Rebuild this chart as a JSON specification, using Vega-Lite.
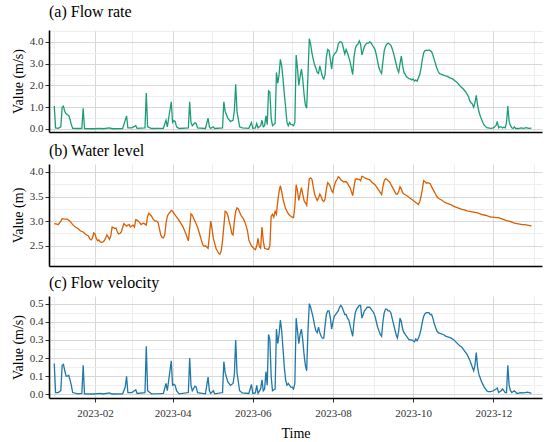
{
  "$schema": "https://vega.github.io/schema/vega-lite/v6.json",
  "background": "white",
  "padding": {"left": 11, "top": 4, "right": 6, "bottom": 2},
  "config": {
    "font": "'Liberation Serif', 'Times New Roman', serif",
    "view": {"stroke": null},
    "axis": {
      "labelFont": "'Liberation Serif', 'Times New Roman', serif", "titleFont": "'Liberation Serif', 'Times New Roman', serif",
      "labelFontSize": 11, "labelColor": "#333333",
      "titleFontSize": 14, "titleFontWeight": "normal", "titleColor": "black",
      "domainColor": "black", "domainWidth": 1.6,
      "tickSize": 4, "gridWidth": 0.9, "labelOverlap": false, "labelFlush": false
    },
    "title": {"font": "'Liberation Serif', 'Times New Roman', serif", "fontSize": 16, "fontWeight": "normal", "anchor": "start", "frame": "group", "offset": 5, "color": "black"},
    "concat": {"spacing": 9}
  },
  "datasets": {
    "flow": [
      {"date": "2023-01-01", "v": 1.05}, {"date": "2023-01-02", "v": 0.05}, {"date": "2023-01-04", "v": 0.03}, {"date": "2023-01-06", "v": 0.1},
      {"date": "2023-01-07", "v": 1.0}, {"date": "2023-01-08", "v": 1.05}, {"date": "2023-01-09", "v": 0.8}, {"date": "2023-01-10", "v": 0.7},
      {"date": "2023-01-11", "v": 0.65}, {"date": "2023-01-12", "v": 0.62}, {"date": "2023-01-13", "v": 0.45}, {"date": "2023-01-14", "v": 0.2},
      {"date": "2023-01-15", "v": 0.03}, {"date": "2023-01-19", "v": 0.02}, {"date": "2023-01-22", "v": 0.03}, {"date": "2023-01-23", "v": 0.95},
      {"date": "2023-01-24", "v": 0.02}, {"date": "2023-01-31", "v": 0.01}, {"date": "2023-02-05", "v": 0.03}, {"date": "2023-02-07", "v": 0.01},
      {"date": "2023-02-12", "v": 0.05}, {"date": "2023-02-14", "v": 0.01}, {"date": "2023-02-22", "v": 0.02}, {"date": "2023-02-25", "v": 0.6},
      {"date": "2023-02-26", "v": 0.05}, {"date": "2023-03-01", "v": 0.05}, {"date": "2023-03-03", "v": 0.12}, {"date": "2023-03-04", "v": 0.15},
      {"date": "2023-03-05", "v": 0.03}, {"date": "2023-03-11", "v": 0.05}, {"date": "2023-03-12", "v": 1.65}, {"date": "2023-03-13", "v": 0.1},
      {"date": "2023-03-16", "v": 0.02}, {"date": "2023-03-22", "v": 0.03}, {"date": "2023-03-25", "v": 0.03}, {"date": "2023-03-27", "v": 0.4},
      {"date": "2023-03-28", "v": 0.1}, {"date": "2023-03-31", "v": 1.25}, {"date": "2023-04-01", "v": 0.3}, {"date": "2023-04-02", "v": 0.38},
      {"date": "2023-04-03", "v": 0.35}, {"date": "2023-04-04", "v": 0.1}, {"date": "2023-04-06", "v": 0.02}, {"date": "2023-04-13", "v": 0.05},
      {"date": "2023-04-14", "v": 1.25}, {"date": "2023-04-15", "v": 0.3}, {"date": "2023-04-16", "v": 0.15}, {"date": "2023-04-18", "v": 0.28},
      {"date": "2023-04-19", "v": 0.25}, {"date": "2023-04-20", "v": 0.05}, {"date": "2023-04-26", "v": 0.02}, {"date": "2023-04-28", "v": 0.5},
      {"date": "2023-04-29", "v": 0.1}, {"date": "2023-04-30", "v": 0.03}, {"date": "2023-05-02", "v": 0.1}, {"date": "2023-05-03", "v": 0.02},
      {"date": "2023-05-09", "v": 0.05}, {"date": "2023-05-10", "v": 1.25}, {"date": "2023-05-11", "v": 0.8}, {"date": "2023-05-13", "v": 0.5},
      {"date": "2023-05-15", "v": 0.35}, {"date": "2023-05-17", "v": 0.4}, {"date": "2023-05-18", "v": 0.85}, {"date": "2023-05-19", "v": 2.05},
      {"date": "2023-05-20", "v": 0.8}, {"date": "2023-05-22", "v": 0.1}, {"date": "2023-05-24", "v": 0.05}, {"date": "2023-05-29", "v": 0.03},
      {"date": "2023-05-31", "v": 0.3}, {"date": "2023-06-01", "v": 0.03}, {"date": "2023-06-03", "v": 0.05}, {"date": "2023-06-04", "v": 0.25},
      {"date": "2023-06-05", "v": 0.05}, {"date": "2023-06-07", "v": 0.15}, {"date": "2023-06-08", "v": 0.4}, {"date": "2023-06-09", "v": 0.1},
      {"date": "2023-06-10", "v": 0.15}, {"date": "2023-06-11", "v": 0.6}, {"date": "2023-06-12", "v": 0.2}, {"date": "2023-06-13", "v": 1.75},
      {"date": "2023-06-14", "v": 1.7}, {"date": "2023-06-15", "v": 0.5}, {"date": "2023-06-16", "v": 0.15}, {"date": "2023-06-17", "v": 0.2},
      {"date": "2023-06-18", "v": 0.25}, {"date": "2023-06-19", "v": 2.6}, {"date": "2023-06-20", "v": 2.1}, {"date": "2023-06-21", "v": 2.5},
      {"date": "2023-06-22", "v": 3.2}, {"date": "2023-06-23", "v": 2.9}, {"date": "2023-06-24", "v": 2.3}, {"date": "2023-06-25", "v": 1.6},
      {"date": "2023-06-26", "v": 1.0}, {"date": "2023-06-27", "v": 0.3}, {"date": "2023-06-28", "v": 0.15}, {"date": "2023-06-29", "v": 0.3},
      {"date": "2023-06-30", "v": 0.2}, {"date": "2023-07-01", "v": 0.2}, {"date": "2023-07-02", "v": 0.15}, {"date": "2023-07-03", "v": 0.3},
      {"date": "2023-07-04", "v": 3.4}, {"date": "2023-07-05", "v": 2.8}, {"date": "2023-07-06", "v": 2.0}, {"date": "2023-07-07", "v": 2.4},
      {"date": "2023-07-08", "v": 2.75}, {"date": "2023-07-09", "v": 2.3}, {"date": "2023-07-10", "v": 1.6}, {"date": "2023-07-11", "v": 1.1},
      {"date": "2023-07-12", "v": 0.95}, {"date": "2023-07-13", "v": 2.5}, {"date": "2023-07-14", "v": 4.15}, {"date": "2023-07-15", "v": 3.9},
      {"date": "2023-07-16", "v": 3.5}, {"date": "2023-07-17", "v": 3.2}, {"date": "2023-07-18", "v": 2.95}, {"date": "2023-07-19", "v": 2.8},
      {"date": "2023-07-20", "v": 2.6}, {"date": "2023-07-21", "v": 2.55}, {"date": "2023-07-22", "v": 2.9}, {"date": "2023-07-23", "v": 2.65},
      {"date": "2023-07-24", "v": 2.4}, {"date": "2023-07-25", "v": 2.3}, {"date": "2023-07-26", "v": 2.5}, {"date": "2023-07-27", "v": 3.3},
      {"date": "2023-07-28", "v": 3.65}, {"date": "2023-07-29", "v": 3.6}, {"date": "2023-07-30", "v": 3.2}, {"date": "2023-07-31", "v": 2.75},
      {"date": "2023-08-01", "v": 3.3}, {"date": "2023-08-02", "v": 3.45}, {"date": "2023-08-03", "v": 3.5}, {"date": "2023-08-04", "v": 3.6},
      {"date": "2023-08-05", "v": 3.9}, {"date": "2023-08-06", "v": 4.0}, {"date": "2023-08-07", "v": 4.0}, {"date": "2023-08-08", "v": 3.95},
      {"date": "2023-08-09", "v": 3.7}, {"date": "2023-08-10", "v": 3.45}, {"date": "2023-08-11", "v": 3.65}, {"date": "2023-08-12", "v": 3.5},
      {"date": "2023-08-13", "v": 3.3}, {"date": "2023-08-14", "v": 3.1}, {"date": "2023-08-15", "v": 2.8}, {"date": "2023-08-16", "v": 2.5},
      {"date": "2023-08-17", "v": 3.3}, {"date": "2023-08-18", "v": 3.7}, {"date": "2023-08-19", "v": 3.85}, {"date": "2023-08-20", "v": 3.9},
      {"date": "2023-08-21", "v": 4.05}, {"date": "2023-08-22", "v": 3.9}, {"date": "2023-08-23", "v": 3.4}, {"date": "2023-08-24", "v": 3.6},
      {"date": "2023-08-25", "v": 3.8}, {"date": "2023-08-26", "v": 3.9}, {"date": "2023-08-27", "v": 3.95}, {"date": "2023-08-28", "v": 3.95},
      {"date": "2023-08-29", "v": 4.0}, {"date": "2023-08-30", "v": 3.95}, {"date": "2023-08-31", "v": 3.85}, {"date": "2023-09-01", "v": 3.75},
      {"date": "2023-09-02", "v": 3.65}, {"date": "2023-09-03", "v": 3.4}, {"date": "2023-09-04", "v": 3.1}, {"date": "2023-09-05", "v": 2.8},
      {"date": "2023-09-06", "v": 2.65}, {"date": "2023-09-07", "v": 2.55}, {"date": "2023-09-08", "v": 3.1}, {"date": "2023-09-09", "v": 3.6},
      {"date": "2023-09-10", "v": 3.8}, {"date": "2023-09-11", "v": 3.9}, {"date": "2023-09-12", "v": 3.95}, {"date": "2023-09-13", "v": 3.9},
      {"date": "2023-09-14", "v": 3.85}, {"date": "2023-09-15", "v": 3.7}, {"date": "2023-09-16", "v": 3.5}, {"date": "2023-09-17", "v": 3.25},
      {"date": "2023-09-18", "v": 3.0}, {"date": "2023-09-19", "v": 2.75}, {"date": "2023-09-20", "v": 2.6}, {"date": "2023-09-21", "v": 3.0},
      {"date": "2023-09-22", "v": 3.35}, {"date": "2023-09-23", "v": 2.9}, {"date": "2023-09-24", "v": 2.6}, {"date": "2023-09-25", "v": 2.5},
      {"date": "2023-09-26", "v": 2.4}, {"date": "2023-09-27", "v": 2.35}, {"date": "2023-09-28", "v": 2.3}, {"date": "2023-09-29", "v": 2.3},
      {"date": "2023-09-30", "v": 2.25}, {"date": "2023-10-01", "v": 2.3}, {"date": "2023-10-02", "v": 2.2}, {"date": "2023-10-03", "v": 2.25},
      {"date": "2023-10-04", "v": 2.2}, {"date": "2023-10-05", "v": 2.35}, {"date": "2023-10-06", "v": 2.5}, {"date": "2023-10-07", "v": 2.8},
      {"date": "2023-10-08", "v": 3.2}, {"date": "2023-10-09", "v": 3.5}, {"date": "2023-10-10", "v": 3.6}, {"date": "2023-10-11", "v": 3.62},
      {"date": "2023-10-12", "v": 3.6}, {"date": "2023-10-13", "v": 3.63}, {"date": "2023-10-14", "v": 3.6}, {"date": "2023-10-15", "v": 3.55},
      {"date": "2023-10-16", "v": 3.4}, {"date": "2023-10-17", "v": 3.2}, {"date": "2023-10-18", "v": 3.0}, {"date": "2023-10-19", "v": 2.8},
      {"date": "2023-10-20", "v": 2.65}, {"date": "2023-10-21", "v": 2.55}, {"date": "2023-10-23", "v": 2.5}, {"date": "2023-10-25", "v": 2.45},
      {"date": "2023-10-27", "v": 2.42}, {"date": "2023-10-29", "v": 2.35}, {"date": "2023-10-31", "v": 2.3}, {"date": "2023-11-02", "v": 2.2},
      {"date": "2023-11-04", "v": 2.1}, {"date": "2023-11-06", "v": 1.95}, {"date": "2023-11-08", "v": 1.85}, {"date": "2023-11-10", "v": 1.7},
      {"date": "2023-11-12", "v": 1.5}, {"date": "2023-11-13", "v": 1.3}, {"date": "2023-11-14", "v": 1.2}, {"date": "2023-11-15", "v": 1.15},
      {"date": "2023-11-16", "v": 1.0}, {"date": "2023-11-17", "v": 1.2}, {"date": "2023-11-18", "v": 1.55}, {"date": "2023-11-19", "v": 1.1},
      {"date": "2023-11-20", "v": 0.8}, {"date": "2023-11-21", "v": 0.6}, {"date": "2023-11-22", "v": 0.45}, {"date": "2023-11-23", "v": 0.3},
      {"date": "2023-11-24", "v": 0.18}, {"date": "2023-11-25", "v": 0.12}, {"date": "2023-11-26", "v": 0.06}, {"date": "2023-11-27", "v": 0.05},
      {"date": "2023-11-29", "v": 0.03}, {"date": "2023-12-01", "v": 0.05}, {"date": "2023-12-02", "v": 0.1}, {"date": "2023-12-03", "v": 0.15},
      {"date": "2023-12-04", "v": 0.35}, {"date": "2023-12-05", "v": 0.05}, {"date": "2023-12-06", "v": 0.1}, {"date": "2023-12-07", "v": 0.1},
      {"date": "2023-12-08", "v": 0.05}, {"date": "2023-12-09", "v": 0.08}, {"date": "2023-12-10", "v": 0.05}, {"date": "2023-12-11", "v": 0.3},
      {"date": "2023-12-12", "v": 1.05}, {"date": "2023-12-13", "v": 0.35}, {"date": "2023-12-14", "v": 0.15}, {"date": "2023-12-15", "v": 0.05},
      {"date": "2023-12-16", "v": 0.02}, {"date": "2023-12-17", "v": 0.1}, {"date": "2023-12-18", "v": 0.02}, {"date": "2023-12-20", "v": 0.02},
      {"date": "2023-12-22", "v": 0.05}, {"date": "2023-12-24", "v": 0.03}, {"date": "2023-12-26", "v": 0.06}, {"date": "2023-12-28", "v": 0.03},
      {"date": "2023-12-30", "v": 0.04}
    ],
    "level": [
      {"date": "2023-01-01", "v": 2.95}, {"date": "2023-01-03", "v": 2.94}, {"date": "2023-01-04", "v": 2.93}, {"date": "2023-01-06", "v": 3.0},
      {"date": "2023-01-07", "v": 3.05}, {"date": "2023-01-09", "v": 3.04}, {"date": "2023-01-11", "v": 3.04}, {"date": "2023-01-13", "v": 3.0},
      {"date": "2023-01-15", "v": 2.93}, {"date": "2023-01-17", "v": 2.88}, {"date": "2023-01-19", "v": 2.85}, {"date": "2023-01-21", "v": 2.8},
      {"date": "2023-01-23", "v": 2.78}, {"date": "2023-01-25", "v": 2.73}, {"date": "2023-01-27", "v": 2.7}, {"date": "2023-01-28", "v": 2.64},
      {"date": "2023-01-29", "v": 2.62}, {"date": "2023-01-30", "v": 2.65}, {"date": "2023-01-31", "v": 2.76}, {"date": "2023-02-01", "v": 2.74},
      {"date": "2023-02-02", "v": 2.65}, {"date": "2023-02-03", "v": 2.6}, {"date": "2023-02-04", "v": 2.62}, {"date": "2023-02-05", "v": 2.58},
      {"date": "2023-02-06", "v": 2.57}, {"date": "2023-02-07", "v": 2.58}, {"date": "2023-02-08", "v": 2.6}, {"date": "2023-02-09", "v": 2.65},
      {"date": "2023-02-10", "v": 2.72}, {"date": "2023-02-11", "v": 2.68}, {"date": "2023-02-12", "v": 2.63}, {"date": "2023-02-13", "v": 2.7},
      {"date": "2023-02-14", "v": 2.88}, {"date": "2023-02-15", "v": 2.87}, {"date": "2023-02-16", "v": 2.85}, {"date": "2023-02-17", "v": 2.86},
      {"date": "2023-02-18", "v": 2.78}, {"date": "2023-02-19", "v": 2.74}, {"date": "2023-02-20", "v": 2.75}, {"date": "2023-02-21", "v": 2.78},
      {"date": "2023-02-22", "v": 2.87}, {"date": "2023-02-23", "v": 2.95}, {"date": "2023-02-24", "v": 2.92}, {"date": "2023-02-25", "v": 2.9},
      {"date": "2023-02-26", "v": 2.92}, {"date": "2023-02-27", "v": 2.93}, {"date": "2023-02-28", "v": 2.88}, {"date": "2023-03-01", "v": 2.9},
      {"date": "2023-03-02", "v": 2.92}, {"date": "2023-03-03", "v": 2.88}, {"date": "2023-03-04", "v": 3.03}, {"date": "2023-03-05", "v": 3.02},
      {"date": "2023-03-06", "v": 3.0}, {"date": "2023-03-07", "v": 2.97}, {"date": "2023-03-08", "v": 2.93}, {"date": "2023-03-09", "v": 2.95},
      {"date": "2023-03-10", "v": 2.96}, {"date": "2023-03-11", "v": 2.94}, {"date": "2023-03-12", "v": 2.92}, {"date": "2023-03-13", "v": 3.1},
      {"date": "2023-03-14", "v": 3.16}, {"date": "2023-03-15", "v": 3.13}, {"date": "2023-03-16", "v": 3.1}, {"date": "2023-03-17", "v": 3.05},
      {"date": "2023-03-18", "v": 3.02}, {"date": "2023-03-19", "v": 3.0}, {"date": "2023-03-20", "v": 3.0}, {"date": "2023-03-21", "v": 2.97},
      {"date": "2023-03-22", "v": 2.85}, {"date": "2023-03-23", "v": 2.72}, {"date": "2023-03-24", "v": 2.67}, {"date": "2023-03-25", "v": 2.66},
      {"date": "2023-03-26", "v": 2.72}, {"date": "2023-03-27", "v": 2.95}, {"date": "2023-03-28", "v": 3.1}, {"date": "2023-03-29", "v": 3.15},
      {"date": "2023-03-30", "v": 3.18}, {"date": "2023-03-31", "v": 3.22}, {"date": "2023-04-01", "v": 3.2}, {"date": "2023-04-03", "v": 3.12},
      {"date": "2023-04-05", "v": 3.05}, {"date": "2023-04-07", "v": 2.97}, {"date": "2023-04-09", "v": 2.88}, {"date": "2023-04-11", "v": 2.75},
      {"date": "2023-04-12", "v": 2.68}, {"date": "2023-04-13", "v": 2.6}, {"date": "2023-04-14", "v": 2.85}, {"date": "2023-04-15", "v": 3.15},
      {"date": "2023-04-16", "v": 3.12}, {"date": "2023-04-18", "v": 3.0}, {"date": "2023-04-20", "v": 2.88}, {"date": "2023-04-22", "v": 2.7},
      {"date": "2023-04-23", "v": 2.6}, {"date": "2023-04-24", "v": 2.52}, {"date": "2023-04-25", "v": 2.49}, {"date": "2023-04-26", "v": 2.5},
      {"date": "2023-04-28", "v": 2.45}, {"date": "2023-04-29", "v": 2.7}, {"date": "2023-04-30", "v": 3.0}, {"date": "2023-05-01", "v": 2.85},
      {"date": "2023-05-02", "v": 2.65}, {"date": "2023-05-04", "v": 2.45}, {"date": "2023-05-05", "v": 2.4}, {"date": "2023-05-06", "v": 2.35},
      {"date": "2023-05-07", "v": 2.33}, {"date": "2023-05-08", "v": 2.4}, {"date": "2023-05-09", "v": 2.6}, {"date": "2023-05-10", "v": 2.9},
      {"date": "2023-05-11", "v": 3.2}, {"date": "2023-05-12", "v": 3.18}, {"date": "2023-05-13", "v": 3.12}, {"date": "2023-05-14", "v": 3.0},
      {"date": "2023-05-15", "v": 2.9}, {"date": "2023-05-16", "v": 2.75}, {"date": "2023-05-17", "v": 2.72}, {"date": "2023-05-18", "v": 3.0},
      {"date": "2023-05-19", "v": 3.2}, {"date": "2023-05-20", "v": 3.27}, {"date": "2023-05-21", "v": 3.25}, {"date": "2023-05-22", "v": 3.18},
      {"date": "2023-05-23", "v": 3.12}, {"date": "2023-05-24", "v": 3.08}, {"date": "2023-05-25", "v": 3.04}, {"date": "2023-05-26", "v": 2.98},
      {"date": "2023-05-27", "v": 2.9}, {"date": "2023-05-28", "v": 2.8}, {"date": "2023-05-29", "v": 2.62}, {"date": "2023-05-30", "v": 2.55},
      {"date": "2023-05-31", "v": 2.5}, {"date": "2023-06-01", "v": 2.47}, {"date": "2023-06-02", "v": 2.44}, {"date": "2023-06-03", "v": 2.42},
      {"date": "2023-06-04", "v": 2.5}, {"date": "2023-06-05", "v": 2.65}, {"date": "2023-06-06", "v": 2.48}, {"date": "2023-06-07", "v": 2.45},
      {"date": "2023-06-08", "v": 2.88}, {"date": "2023-06-09", "v": 2.6}, {"date": "2023-06-10", "v": 2.45}, {"date": "2023-06-11", "v": 2.44},
      {"date": "2023-06-12", "v": 2.43}, {"date": "2023-06-13", "v": 2.43}, {"date": "2023-06-14", "v": 2.5}, {"date": "2023-06-15", "v": 3.1},
      {"date": "2023-06-16", "v": 3.14}, {"date": "2023-06-17", "v": 3.08}, {"date": "2023-06-18", "v": 3.2}, {"date": "2023-06-19", "v": 3.14},
      {"date": "2023-06-20", "v": 3.4}, {"date": "2023-06-21", "v": 3.6}, {"date": "2023-06-22", "v": 3.72}, {"date": "2023-06-23", "v": 3.6},
      {"date": "2023-06-24", "v": 3.45}, {"date": "2023-06-25", "v": 3.35}, {"date": "2023-06-26", "v": 3.25}, {"date": "2023-06-27", "v": 3.2},
      {"date": "2023-06-28", "v": 3.15}, {"date": "2023-06-29", "v": 3.12}, {"date": "2023-06-30", "v": 3.1}, {"date": "2023-07-01", "v": 3.08},
      {"date": "2023-07-02", "v": 3.07}, {"date": "2023-07-03", "v": 3.3}, {"date": "2023-07-04", "v": 3.74}, {"date": "2023-07-05", "v": 3.62},
      {"date": "2023-07-06", "v": 3.42}, {"date": "2023-07-07", "v": 3.55}, {"date": "2023-07-08", "v": 3.68}, {"date": "2023-07-09", "v": 3.55},
      {"date": "2023-07-10", "v": 3.42}, {"date": "2023-07-11", "v": 3.37}, {"date": "2023-07-12", "v": 3.32}, {"date": "2023-07-13", "v": 3.6},
      {"date": "2023-07-14", "v": 3.86}, {"date": "2023-07-15", "v": 3.88}, {"date": "2023-07-16", "v": 3.85}, {"date": "2023-07-17", "v": 3.7},
      {"date": "2023-07-18", "v": 3.55}, {"date": "2023-07-19", "v": 3.48}, {"date": "2023-07-20", "v": 3.42}, {"date": "2023-07-21", "v": 3.47},
      {"date": "2023-07-22", "v": 3.55}, {"date": "2023-07-23", "v": 3.5}, {"date": "2023-07-24", "v": 3.42}, {"date": "2023-07-25", "v": 3.4},
      {"date": "2023-07-26", "v": 3.45}, {"date": "2023-07-27", "v": 3.65}, {"date": "2023-07-28", "v": 3.78}, {"date": "2023-07-29", "v": 3.75},
      {"date": "2023-07-30", "v": 3.7}, {"date": "2023-07-31", "v": 3.62}, {"date": "2023-08-01", "v": 3.58}, {"date": "2023-08-02", "v": 3.72},
      {"date": "2023-08-03", "v": 3.8}, {"date": "2023-08-04", "v": 3.84}, {"date": "2023-08-05", "v": 3.9}, {"date": "2023-08-06", "v": 3.88},
      {"date": "2023-08-07", "v": 3.84}, {"date": "2023-08-08", "v": 3.82}, {"date": "2023-08-09", "v": 3.8}, {"date": "2023-08-10", "v": 3.8},
      {"date": "2023-08-11", "v": 3.8}, {"date": "2023-08-12", "v": 3.77}, {"date": "2023-08-13", "v": 3.72}, {"date": "2023-08-14", "v": 3.68},
      {"date": "2023-08-15", "v": 3.6}, {"date": "2023-08-16", "v": 3.52}, {"date": "2023-08-17", "v": 3.7}, {"date": "2023-08-18", "v": 3.85},
      {"date": "2023-08-19", "v": 3.86}, {"date": "2023-08-20", "v": 3.85}, {"date": "2023-08-21", "v": 3.85}, {"date": "2023-08-22", "v": 3.82},
      {"date": "2023-08-23", "v": 3.91}, {"date": "2023-08-24", "v": 3.9}, {"date": "2023-08-25", "v": 3.88}, {"date": "2023-08-26", "v": 3.87},
      {"date": "2023-08-27", "v": 3.86}, {"date": "2023-08-29", "v": 3.84}, {"date": "2023-08-31", "v": 3.78}, {"date": "2023-09-02", "v": 3.74},
      {"date": "2023-09-04", "v": 3.66}, {"date": "2023-09-06", "v": 3.58}, {"date": "2023-09-07", "v": 3.54}, {"date": "2023-09-08", "v": 3.7},
      {"date": "2023-09-09", "v": 3.82}, {"date": "2023-09-10", "v": 3.86}, {"date": "2023-09-11", "v": 3.85}, {"date": "2023-09-12", "v": 3.82},
      {"date": "2023-09-13", "v": 3.8}, {"date": "2023-09-14", "v": 3.75}, {"date": "2023-09-15", "v": 3.7}, {"date": "2023-09-16", "v": 3.65},
      {"date": "2023-09-17", "v": 3.6}, {"date": "2023-09-18", "v": 3.55}, {"date": "2023-09-19", "v": 3.55}, {"date": "2023-09-20", "v": 3.6},
      {"date": "2023-09-21", "v": 3.7}, {"date": "2023-09-22", "v": 3.65}, {"date": "2023-09-23", "v": 3.58}, {"date": "2023-09-24", "v": 3.55},
      {"date": "2023-09-26", "v": 3.52}, {"date": "2023-09-28", "v": 3.48}, {"date": "2023-09-30", "v": 3.44}, {"date": "2023-10-02", "v": 3.4},
      {"date": "2023-10-04", "v": 3.36}, {"date": "2023-10-05", "v": 3.34}, {"date": "2023-10-06", "v": 3.4}, {"date": "2023-10-07", "v": 3.5},
      {"date": "2023-10-08", "v": 3.65}, {"date": "2023-10-09", "v": 3.82}, {"date": "2023-10-10", "v": 3.8}, {"date": "2023-10-11", "v": 3.77},
      {"date": "2023-10-12", "v": 3.78}, {"date": "2023-10-13", "v": 3.77}, {"date": "2023-10-14", "v": 3.76}, {"date": "2023-10-15", "v": 3.7},
      {"date": "2023-10-16", "v": 3.65}, {"date": "2023-10-17", "v": 3.6}, {"date": "2023-10-18", "v": 3.55}, {"date": "2023-10-19", "v": 3.5},
      {"date": "2023-10-20", "v": 3.47}, {"date": "2023-10-21", "v": 3.45}, {"date": "2023-10-22", "v": 3.44}, {"date": "2023-10-23", "v": 3.42},
      {"date": "2023-10-24", "v": 3.4}, {"date": "2023-10-26", "v": 3.37}, {"date": "2023-10-28", "v": 3.35}, {"date": "2023-10-30", "v": 3.33},
      {"date": "2023-11-01", "v": 3.3}, {"date": "2023-11-03", "v": 3.28}, {"date": "2023-11-05", "v": 3.26}, {"date": "2023-11-07", "v": 3.24},
      {"date": "2023-11-09", "v": 3.23}, {"date": "2023-11-11", "v": 3.21}, {"date": "2023-11-13", "v": 3.2}, {"date": "2023-11-15", "v": 3.19},
      {"date": "2023-11-17", "v": 3.18}, {"date": "2023-11-19", "v": 3.17}, {"date": "2023-11-21", "v": 3.15}, {"date": "2023-11-23", "v": 3.13},
      {"date": "2023-11-25", "v": 3.12}, {"date": "2023-11-27", "v": 3.1}, {"date": "2023-11-29", "v": 3.08}, {"date": "2023-12-01", "v": 3.08},
      {"date": "2023-12-03", "v": 3.07}, {"date": "2023-12-05", "v": 3.07}, {"date": "2023-12-07", "v": 3.05}, {"date": "2023-12-09", "v": 3.03},
      {"date": "2023-12-11", "v": 3.01}, {"date": "2023-12-13", "v": 3.0}, {"date": "2023-12-15", "v": 2.98}, {"date": "2023-12-17", "v": 2.96},
      {"date": "2023-12-19", "v": 2.95}, {"date": "2023-12-21", "v": 2.94}, {"date": "2023-12-23", "v": 2.93}, {"date": "2023-12-25", "v": 2.93},
      {"date": "2023-12-27", "v": 2.92}, {"date": "2023-12-29", "v": 2.91}, {"date": "2023-12-30", "v": 2.9}
    ],
    "velocity": [
      {"date": "2023-01-01", "v": 0.17}, {"date": "2023-01-02", "v": 0.01}, {"date": "2023-01-04", "v": 0.01}, {"date": "2023-01-06", "v": 0.02},
      {"date": "2023-01-07", "v": 0.16}, {"date": "2023-01-08", "v": 0.165}, {"date": "2023-01-09", "v": 0.13}, {"date": "2023-01-10", "v": 0.1},
      {"date": "2023-01-11", "v": 0.1}, {"date": "2023-01-12", "v": 0.105}, {"date": "2023-01-13", "v": 0.08}, {"date": "2023-01-14", "v": 0.05},
      {"date": "2023-01-15", "v": 0.01}, {"date": "2023-01-19", "v": 0.003}, {"date": "2023-01-22", "v": 0.005}, {"date": "2023-01-23", "v": 0.16},
      {"date": "2023-01-24", "v": 0.003}, {"date": "2023-01-31", "v": 0.002}, {"date": "2023-02-05", "v": 0.005}, {"date": "2023-02-07", "v": 0.002},
      {"date": "2023-02-12", "v": 0.008}, {"date": "2023-02-14", "v": 0.002}, {"date": "2023-02-22", "v": 0.003}, {"date": "2023-02-24", "v": 0.04},
      {"date": "2023-02-25", "v": 0.1}, {"date": "2023-02-26", "v": 0.01}, {"date": "2023-03-01", "v": 0.01}, {"date": "2023-03-03", "v": 0.02},
      {"date": "2023-03-04", "v": 0.025}, {"date": "2023-03-05", "v": 0.005}, {"date": "2023-03-11", "v": 0.01}, {"date": "2023-03-12", "v": 0.265},
      {"date": "2023-03-13", "v": 0.02}, {"date": "2023-03-16", "v": 0.003}, {"date": "2023-03-22", "v": 0.004}, {"date": "2023-03-25", "v": 0.005},
      {"date": "2023-03-27", "v": 0.06}, {"date": "2023-03-28", "v": 0.02}, {"date": "2023-03-31", "v": 0.185}, {"date": "2023-04-01", "v": 0.05},
      {"date": "2023-04-02", "v": 0.055}, {"date": "2023-04-03", "v": 0.05}, {"date": "2023-04-04", "v": 0.02}, {"date": "2023-04-06", "v": 0.003},
      {"date": "2023-04-13", "v": 0.01}, {"date": "2023-04-14", "v": 0.2}, {"date": "2023-04-15", "v": 0.05}, {"date": "2023-04-16", "v": 0.02},
      {"date": "2023-04-18", "v": 0.045}, {"date": "2023-04-19", "v": 0.04}, {"date": "2023-04-20", "v": 0.01}, {"date": "2023-04-26", "v": 0.003},
      {"date": "2023-04-28", "v": 0.095}, {"date": "2023-04-29", "v": 0.02}, {"date": "2023-04-30", "v": 0.005}, {"date": "2023-05-02", "v": 0.02},
      {"date": "2023-05-03", "v": 0.003}, {"date": "2023-05-09", "v": 0.01}, {"date": "2023-05-10", "v": 0.18}, {"date": "2023-05-11", "v": 0.12},
      {"date": "2023-05-13", "v": 0.07}, {"date": "2023-05-15", "v": 0.05}, {"date": "2023-05-17", "v": 0.06}, {"date": "2023-05-18", "v": 0.11},
      {"date": "2023-05-19", "v": 0.3}, {"date": "2023-05-20", "v": 0.12}, {"date": "2023-05-22", "v": 0.02}, {"date": "2023-05-24", "v": 0.008},
      {"date": "2023-05-29", "v": 0.005}, {"date": "2023-05-31", "v": 0.055}, {"date": "2023-06-01", "v": 0.005}, {"date": "2023-06-03", "v": 0.008},
      {"date": "2023-06-04", "v": 0.05}, {"date": "2023-06-05", "v": 0.005}, {"date": "2023-06-07", "v": 0.03}, {"date": "2023-06-08", "v": 0.08},
      {"date": "2023-06-09", "v": 0.02}, {"date": "2023-06-10", "v": 0.03}, {"date": "2023-06-11", "v": 0.125}, {"date": "2023-06-12", "v": 0.05},
      {"date": "2023-06-13", "v": 0.33}, {"date": "2023-06-14", "v": 0.3}, {"date": "2023-06-15", "v": 0.1}, {"date": "2023-06-16", "v": 0.02},
      {"date": "2023-06-17", "v": 0.025}, {"date": "2023-06-18", "v": 0.03}, {"date": "2023-06-19", "v": 0.36}, {"date": "2023-06-20", "v": 0.28},
      {"date": "2023-06-21", "v": 0.33}, {"date": "2023-06-22", "v": 0.41}, {"date": "2023-06-23", "v": 0.35}, {"date": "2023-06-24", "v": 0.25},
      {"date": "2023-06-25", "v": 0.15}, {"date": "2023-06-26", "v": 0.08}, {"date": "2023-06-27", "v": 0.05}, {"date": "2023-06-28", "v": 0.06},
      {"date": "2023-06-29", "v": 0.05}, {"date": "2023-06-30", "v": 0.04}, {"date": "2023-07-01", "v": 0.04}, {"date": "2023-07-02", "v": 0.03},
      {"date": "2023-07-03", "v": 0.06}, {"date": "2023-07-04", "v": 0.42}, {"date": "2023-07-05", "v": 0.35}, {"date": "2023-07-06", "v": 0.28},
      {"date": "2023-07-07", "v": 0.33}, {"date": "2023-07-08", "v": 0.36}, {"date": "2023-07-09", "v": 0.3}, {"date": "2023-07-10", "v": 0.22},
      {"date": "2023-07-11", "v": 0.16}, {"date": "2023-07-12", "v": 0.13}, {"date": "2023-07-13", "v": 0.35}, {"date": "2023-07-14", "v": 0.5},
      {"date": "2023-07-15", "v": 0.48}, {"date": "2023-07-16", "v": 0.45}, {"date": "2023-07-17", "v": 0.42}, {"date": "2023-07-18", "v": 0.38},
      {"date": "2023-07-19", "v": 0.35}, {"date": "2023-07-20", "v": 0.34}, {"date": "2023-07-21", "v": 0.37}, {"date": "2023-07-22", "v": 0.34},
      {"date": "2023-07-23", "v": 0.32}, {"date": "2023-07-24", "v": 0.31}, {"date": "2023-07-25", "v": 0.31}, {"date": "2023-07-26", "v": 0.38},
      {"date": "2023-07-27", "v": 0.44}, {"date": "2023-07-28", "v": 0.46}, {"date": "2023-07-29", "v": 0.46}, {"date": "2023-07-30", "v": 0.42},
      {"date": "2023-07-31", "v": 0.36}, {"date": "2023-08-01", "v": 0.4}, {"date": "2023-08-02", "v": 0.43}, {"date": "2023-08-03", "v": 0.44},
      {"date": "2023-08-04", "v": 0.45}, {"date": "2023-08-05", "v": 0.46}, {"date": "2023-08-06", "v": 0.48}, {"date": "2023-08-07", "v": 0.49},
      {"date": "2023-08-08", "v": 0.48}, {"date": "2023-08-09", "v": 0.46}, {"date": "2023-08-10", "v": 0.44}, {"date": "2023-08-11", "v": 0.44},
      {"date": "2023-08-12", "v": 0.42}, {"date": "2023-08-13", "v": 0.41}, {"date": "2023-08-14", "v": 0.38}, {"date": "2023-08-15", "v": 0.35},
      {"date": "2023-08-16", "v": 0.32}, {"date": "2023-08-17", "v": 0.4}, {"date": "2023-08-18", "v": 0.45}, {"date": "2023-08-19", "v": 0.47},
      {"date": "2023-08-20", "v": 0.48}, {"date": "2023-08-21", "v": 0.49}, {"date": "2023-08-22", "v": 0.49}, {"date": "2023-08-23", "v": 0.42},
      {"date": "2023-08-24", "v": 0.44}, {"date": "2023-08-25", "v": 0.46}, {"date": "2023-08-26", "v": 0.47}, {"date": "2023-08-27", "v": 0.48},
      {"date": "2023-08-28", "v": 0.48}, {"date": "2023-08-29", "v": 0.48}, {"date": "2023-08-30", "v": 0.47}, {"date": "2023-08-31", "v": 0.46},
      {"date": "2023-09-01", "v": 0.45}, {"date": "2023-09-02", "v": 0.43}, {"date": "2023-09-03", "v": 0.4}, {"date": "2023-09-04", "v": 0.37},
      {"date": "2023-09-05", "v": 0.35}, {"date": "2023-09-06", "v": 0.33}, {"date": "2023-09-07", "v": 0.32}, {"date": "2023-09-08", "v": 0.4},
      {"date": "2023-09-09", "v": 0.45}, {"date": "2023-09-10", "v": 0.47}, {"date": "2023-09-11", "v": 0.47}, {"date": "2023-09-12", "v": 0.46},
      {"date": "2023-09-13", "v": 0.46}, {"date": "2023-09-14", "v": 0.45}, {"date": "2023-09-15", "v": 0.42}, {"date": "2023-09-16", "v": 0.39},
      {"date": "2023-09-17", "v": 0.36}, {"date": "2023-09-18", "v": 0.33}, {"date": "2023-09-19", "v": 0.31}, {"date": "2023-09-20", "v": 0.35},
      {"date": "2023-09-21", "v": 0.42}, {"date": "2023-09-22", "v": 0.4}, {"date": "2023-09-23", "v": 0.36}, {"date": "2023-09-24", "v": 0.34},
      {"date": "2023-09-25", "v": 0.33}, {"date": "2023-09-26", "v": 0.32}, {"date": "2023-09-27", "v": 0.31}, {"date": "2023-09-28", "v": 0.3},
      {"date": "2023-09-30", "v": 0.3}, {"date": "2023-10-02", "v": 0.29}, {"date": "2023-10-03", "v": 0.305}, {"date": "2023-10-04", "v": 0.295},
      {"date": "2023-10-05", "v": 0.31}, {"date": "2023-10-06", "v": 0.33}, {"date": "2023-10-07", "v": 0.36}, {"date": "2023-10-08", "v": 0.4},
      {"date": "2023-10-09", "v": 0.43}, {"date": "2023-10-10", "v": 0.445}, {"date": "2023-10-11", "v": 0.45}, {"date": "2023-10-12", "v": 0.45},
      {"date": "2023-10-13", "v": 0.45}, {"date": "2023-10-14", "v": 0.44}, {"date": "2023-10-15", "v": 0.44}, {"date": "2023-10-16", "v": 0.42},
      {"date": "2023-10-17", "v": 0.39}, {"date": "2023-10-18", "v": 0.37}, {"date": "2023-10-19", "v": 0.35}, {"date": "2023-10-20", "v": 0.34},
      {"date": "2023-10-22", "v": 0.335}, {"date": "2023-10-24", "v": 0.33}, {"date": "2023-10-26", "v": 0.32}, {"date": "2023-10-28", "v": 0.315},
      {"date": "2023-10-30", "v": 0.31}, {"date": "2023-11-01", "v": 0.3}, {"date": "2023-11-03", "v": 0.285}, {"date": "2023-11-05", "v": 0.27},
      {"date": "2023-11-07", "v": 0.26}, {"date": "2023-11-09", "v": 0.24}, {"date": "2023-11-11", "v": 0.22}, {"date": "2023-11-13", "v": 0.19},
      {"date": "2023-11-14", "v": 0.17}, {"date": "2023-11-15", "v": 0.15}, {"date": "2023-11-16", "v": 0.13}, {"date": "2023-11-17", "v": 0.16},
      {"date": "2023-11-18", "v": 0.23}, {"date": "2023-11-19", "v": 0.15}, {"date": "2023-11-20", "v": 0.11}, {"date": "2023-11-21", "v": 0.09},
      {"date": "2023-11-22", "v": 0.07}, {"date": "2023-11-23", "v": 0.055}, {"date": "2023-11-24", "v": 0.04}, {"date": "2023-11-25", "v": 0.03},
      {"date": "2023-11-26", "v": 0.02}, {"date": "2023-11-27", "v": 0.015}, {"date": "2023-11-29", "v": 0.015}, {"date": "2023-12-01", "v": 0.02},
      {"date": "2023-12-03", "v": 0.03}, {"date": "2023-12-04", "v": 0.035}, {"date": "2023-12-05", "v": 0.01}, {"date": "2023-12-07", "v": 0.02},
      {"date": "2023-12-08", "v": 0.03}, {"date": "2023-12-10", "v": 0.01}, {"date": "2023-12-11", "v": 0.01}, {"date": "2023-12-12", "v": 0.16},
      {"date": "2023-12-13", "v": 0.05}, {"date": "2023-12-14", "v": 0.02}, {"date": "2023-12-15", "v": 0.01}, {"date": "2023-12-17", "v": 0.02},
      {"date": "2023-12-19", "v": 0.005}, {"date": "2023-12-22", "v": 0.01}, {"date": "2023-12-24", "v": 0.008}, {"date": "2023-12-27", "v": 0.012},
      {"date": "2023-12-30", "v": 0.006}
    ]
  },
  "vconcat": [
    {
      "title": "(a) Flow rate",
      "width": 493,
      "height": 102,
      "data": {"name": "flow"},
      "mark": {"type": "line", "color": "#1b9e77", "strokeWidth": 1.3},
      "encoding": {
        "x": {
          "field": "date", "type": "temporal",
          "scale": {"type": "utc", "domain": [{"year": 2022, "month": 12, "date": 28, "utc": true}, {"year": 2024, "month": 1, "date": 7, "utc": true}]},
          "axis": {
            "title": null, "labels": false, "ticks": false,
            "tickCount": {"interval": "month", "step": 1},
            "gridColor": {"condition": {"test": "utcmonth(datum.value) % 2 == 1", "value": "#d4d4d4"}, "value": "#ececec"}
          }
        },
        "y": {
          "field": "v", "type": "quantitative",
          "scale": {"domain": [-0.14, 4.55], "nice": false, "zero": false},
          "axis": {
            "title": "Value (m/s)",
            "values": [0, 0.5, 1, 1.5, 2, 2.5, 3, 3.5, 4, 4.5],
            "labelExpr": "datum.value % 1 == 0 ? format(datum.value, '.1f') : ''",
            "gridColor": {"condition": {"test": "datum.value % 1 == 0", "value": "#d4d4d4"}, "value": "#ececec"},
            "tickColor": {"condition": {"test": "datum.value % 1 == 0", "value": "#333333"}, "value": "transparent"}
          }
        }
      }
    },
    {
      "title": "(b) Water level",
      "width": 493,
      "height": 102,
      "data": {"name": "level"},
      "mark": {"type": "line", "color": "#d95f02", "strokeWidth": 1.3},
      "encoding": {
        "x": {
          "field": "date", "type": "temporal",
          "scale": {"type": "utc", "domain": [{"year": 2022, "month": 12, "date": 28, "utc": true}, {"year": 2024, "month": 1, "date": 7, "utc": true}]},
          "axis": {
            "title": null, "labels": false, "ticks": false,
            "tickCount": {"interval": "month", "step": 1},
            "gridColor": {"condition": {"test": "utcmonth(datum.value) % 2 == 1", "value": "#d4d4d4"}, "value": "#ececec"}
          }
        },
        "y": {
          "field": "v", "type": "quantitative",
          "scale": {"domain": [2.09, 4.16], "nice": false, "zero": false},
          "axis": {
            "title": "Value (m)",
            "values": [2.25, 2.5, 2.75, 3, 3.25, 3.5, 3.75, 4],
            "labelExpr": "(datum.value * 2) % 1 == 0 ? format(datum.value, '.1f') : ''",
            "gridColor": {"condition": {"test": "(datum.value * 2) % 1 == 0", "value": "#d4d4d4"}, "value": "#ececec"},
            "tickColor": {"condition": {"test": "(datum.value * 2) % 1 == 0", "value": "#333333"}, "value": "transparent"}
          }
        }
      }
    },
    {
      "title": "(c) Flow velocity",
      "width": 493,
      "height": 102,
      "data": {"name": "velocity"},
      "mark": {"type": "line", "color": "#1f78a8", "strokeWidth": 1.3},
      "encoding": {
        "x": {
          "field": "date", "type": "temporal",
          "scale": {"type": "utc", "domain": [{"year": 2022, "month": 12, "date": 28, "utc": true}, {"year": 2024, "month": 1, "date": 7, "utc": true}]},
          "axis": {
            "title": "Time",
            "tickCount": {"interval": "month", "step": 1},
            "labelExpr": "utcmonth(datum.value) % 2 == 1 ? utcFormat(datum.value, '%Y-%m') : ''",
            "labelPadding": 5,
            "titlePadding": 8,
            "gridColor": {"condition": {"test": "utcmonth(datum.value) % 2 == 1", "value": "#d4d4d4"}, "value": "#ececec"},
            "tickColor": {"condition": {"test": "utcmonth(datum.value) % 2 == 1", "value": "#333333"}, "value": "transparent"}
          }
        },
        "y": {
          "field": "v", "type": "quantitative",
          "scale": {"domain": [-0.02, 0.542], "nice": false, "zero": false},
          "axis": {
            "title": "Value (m/s)",
            "values": [0, 0.05, 0.1, 0.15, 0.2, 0.25, 0.3, 0.35, 0.4, 0.45, 0.5],
            "labelExpr": "round(datum.value * 100) % 10 == 0 ? format(datum.value, '.1f') : ''",
            "gridColor": {"condition": {"test": "round(datum.value * 100) % 10 == 0", "value": "#d4d4d4"}, "value": "#ececec"},
            "tickColor": {"condition": {"test": "round(datum.value * 100) % 10 == 0", "value": "#333333"}, "value": "transparent"}
          }
        }
      }
    }
  ]
}
